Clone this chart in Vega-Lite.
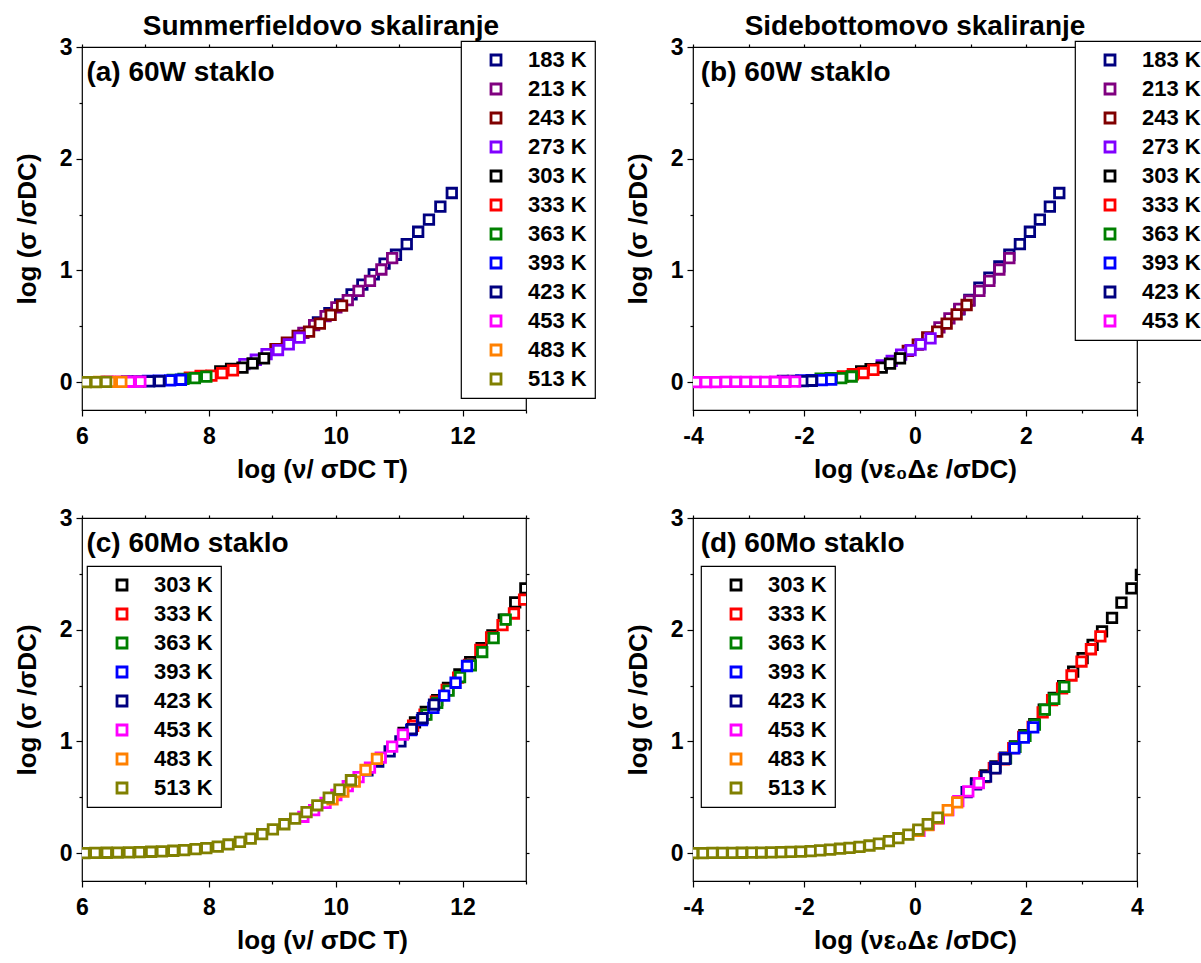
{
"$schema":"https://vega.github.io/schema/vega-lite/v6.json",
"background":"white",
"padding":{"left":13,"top":12,"right":0,"bottom":0},
"datasets":{
"a":[
{"T":"183 K","x":9.72,"y":0.535},{"T":"183 K","x":9.90,"y":0.617},{"T":"183 K","x":10.07,"y":0.696},{"T":"183 K","x":10.25,"y":0.785},{"T":"183 K","x":10.42,"y":0.873},{"T":"183 K","x":10.60,"y":0.965},{"T":"183 K","x":10.77,"y":1.06},{"T":"183 K","x":10.95,"y":1.14},{"T":"183 K","x":11.12,"y":1.235},{"T":"183 K","x":11.30,"y":1.346},{"T":"183 K","x":11.47,"y":1.454},{"T":"183 K","x":11.65,"y":1.571},{"T":"183 K","x":11.83,"y":1.693},
{"T":"213 K","x":9.49,"y":0.44},{"T":"213 K","x":9.66,"y":0.51},{"T":"213 K","x":9.84,"y":0.59},{"T":"213 K","x":10.01,"y":0.668},{"T":"213 K","x":10.19,"y":0.733},{"T":"213 K","x":10.36,"y":0.817},{"T":"213 K","x":10.54,"y":0.906},{"T":"213 K","x":10.72,"y":1.008},{"T":"213 K","x":10.89,"y":1.11},
{"T":"243 K","x":9.05,"y":0.295},{"T":"243 K","x":9.23,"y":0.353},{"T":"243 K","x":9.40,"y":0.413},{"T":"243 K","x":9.58,"y":0.452},{"T":"243 K","x":9.75,"y":0.523},{"T":"243 K","x":9.92,"y":0.601},{"T":"243 K","x":10.10,"y":0.685},
{"T":"273 K","x":8.56,"y":0.16},{"T":"273 K","x":8.74,"y":0.2},{"T":"273 K","x":8.91,"y":0.25},{"T":"273 K","x":9.09,"y":0.287},{"T":"273 K","x":9.26,"y":0.338},{"T":"273 K","x":9.43,"y":0.398},
{"T":"303 K","x":8.18,"y":0.095},{"T":"303 K","x":8.35,"y":0.118},{"T":"303 K","x":8.53,"y":0.13},{"T":"303 K","x":8.69,"y":0.167},{"T":"303 K","x":8.87,"y":0.212},
{"T":"333 K","x":7.70,"y":0.04},{"T":"333 K","x":7.87,"y":0.055},{"T":"333 K","x":8.04,"y":0.058},{"T":"333 K","x":8.21,"y":0.08},{"T":"333 K","x":8.38,"y":0.104},
{"T":"363 K","x":7.43,"y":0.02},{"T":"363 K","x":7.60,"y":0.028},{"T":"363 K","x":7.78,"y":0.035},{"T":"363 K","x":7.96,"y":0.048},
{"T":"393 K","x":7.04,"y":0.01},{"T":"393 K","x":7.21,"y":0.013},{"T":"393 K","x":7.39,"y":0.015},{"T":"393 K","x":7.56,"y":0.021},
{"T":"423 K","x":6.71,"y":0.006},{"T":"423 K","x":6.88,"y":0.007},{"T":"423 K","x":7.06,"y":0.006},{"T":"423 K","x":7.22,"y":0.009},
{"T":"453 K","x":6.40,"y":0.003},{"T":"453 K","x":6.57,"y":0.003},{"T":"453 K","x":6.75,"y":0.003},{"T":"453 K","x":6.92,"y":0.004},
{"T":"483 K","x":6.27,"y":0.002},{"T":"483 K","x":6.44,"y":0.002},{"T":"483 K","x":6.62,"y":0.002},
{"T":"513 K","x":5.90,"y":0},{"T":"513 K","x":6.06,"y":0},{"T":"513 K","x":6.22,"y":0},{"T":"513 K","x":6.38,"y":0.001}
],
"b":[
{"T":"183 K","x":0.80,"y":0.65},{"T":"183 K","x":0.98,"y":0.735},{"T":"183 K","x":1.16,"y":0.845},{"T":"183 K","x":1.34,"y":0.935},{"T":"183 K","x":1.52,"y":1.035},{"T":"183 K","x":1.70,"y":1.14},{"T":"183 K","x":1.89,"y":1.235},{"T":"183 K","x":2.07,"y":1.346},{"T":"183 K","x":2.25,"y":1.454},{"T":"183 K","x":2.43,"y":1.571},{"T":"183 K","x":2.60,"y":1.693},
{"T":"213 K","x":0.44,"y":0.49},{"T":"213 K","x":0.62,"y":0.57},{"T":"213 K","x":0.80,"y":0.655},{"T":"213 K","x":0.98,"y":0.73},{"T":"213 K","x":1.16,"y":0.817},{"T":"213 K","x":1.34,"y":0.906},{"T":"213 K","x":1.52,"y":1.008},{"T":"213 K","x":1.70,"y":1.11},
{"T":"243 K","x":-0.13,"y":0.28},{"T":"243 K","x":0.05,"y":0.335},{"T":"243 K","x":0.22,"y":0.40},{"T":"243 K","x":0.40,"y":0.452},{"T":"243 K","x":0.57,"y":0.523},{"T":"243 K","x":0.75,"y":0.607},{"T":"243 K","x":0.93,"y":0.69},
{"T":"273 K","x":-0.60,"y":0.15},{"T":"273 K","x":-0.42,"y":0.19},{"T":"273 K","x":-0.25,"y":0.245},{"T":"273 K","x":-0.08,"y":0.287},{"T":"273 K","x":0.10,"y":0.338},{"T":"273 K","x":0.28,"y":0.392},
{"T":"303 K","x":-0.97,"y":0.095},{"T":"303 K","x":-0.80,"y":0.115},{"T":"303 K","x":-0.60,"y":0.13},{"T":"303 K","x":-0.45,"y":0.165},{"T":"303 K","x":-0.27,"y":0.212},
{"T":"333 K","x":-1.30,"y":0.05},{"T":"333 K","x":-1.12,"y":0.07},{"T":"333 K","x":-0.93,"y":0.081},{"T":"333 K","x":-0.75,"y":0.11},
{"T":"363 K","x":-1.70,"y":0.03},{"T":"363 K","x":-1.52,"y":0.035},{"T":"363 K","x":-1.33,"y":0.035},{"T":"363 K","x":-1.14,"y":0.05},
{"T":"393 K","x":-2.05,"y":0.015},{"T":"393 K","x":-1.86,"y":0.018},{"T":"393 K","x":-1.68,"y":0.017},{"T":"393 K","x":-1.51,"y":0.022},
{"T":"423 K","x":-2.38,"y":0.01},{"T":"423 K","x":-2.20,"y":0.01},{"T":"423 K","x":-2.02,"y":0.008},{"T":"423 K","x":-1.86,"y":0.012},
{"T":"453 K","x":-4.13,"y":0},{"T":"453 K","x":-3.95,"y":0},{"T":"453 K","x":-3.77,"y":0},{"T":"453 K","x":-3.59,"y":0},{"T":"453 K","x":-3.41,"y":0.001},{"T":"453 K","x":-3.23,"y":0.001},{"T":"453 K","x":-3.05,"y":0.001},{"T":"453 K","x":-2.87,"y":0.002},{"T":"453 K","x":-2.70,"y":0.002},{"T":"453 K","x":-2.52,"y":0.003},{"T":"453 K","x":-2.34,"y":0.003},{"T":"453 K","x":-2.16,"y":0.004}
],
"c":[
{"T":"303 K","x":11.07,"y":1.075},{"T":"303 K","x":11.25,"y":1.17},{"T":"303 K","x":11.42,"y":1.265},{"T":"303 K","x":11.60,"y":1.37},{"T":"303 K","x":11.77,"y":1.48},{"T":"303 K","x":11.95,"y":1.60},{"T":"303 K","x":12.12,"y":1.71},{"T":"303 K","x":12.30,"y":1.835},{"T":"303 K","x":12.47,"y":1.95},{"T":"303 K","x":12.65,"y":2.09},{"T":"303 K","x":12.83,"y":2.245},{"T":"303 K","x":12.99,"y":2.37},{"T":"303 K","x":13.16,"y":2.49},
{"T":"333 K","x":11.22,"y":1.14},{"T":"333 K","x":11.40,"y":1.24},{"T":"333 K","x":11.58,"y":1.355},{"T":"333 K","x":11.75,"y":1.46},{"T":"333 K","x":11.93,"y":1.57},{"T":"333 K","x":12.10,"y":1.685},{"T":"333 K","x":12.28,"y":1.82},{"T":"333 K","x":12.45,"y":1.93},{"T":"333 K","x":12.63,"y":2.04},{"T":"333 K","x":12.81,"y":2.145},{"T":"333 K","x":12.97,"y":2.27},
{"T":"363 K","x":11.43,"y":1.24},{"T":"363 K","x":11.60,"y":1.345},{"T":"363 K","x":11.78,"y":1.455},{"T":"363 K","x":11.96,"y":1.575},{"T":"363 K","x":12.13,"y":1.68},{"T":"363 K","x":12.31,"y":1.80},{"T":"363 K","x":12.49,"y":1.925},{"T":"363 K","x":12.68,"y":2.09},
{"T":"393 K","x":11.19,"y":1.10},{"T":"393 K","x":11.36,"y":1.19},{"T":"393 K","x":11.54,"y":1.30},{"T":"393 K","x":11.71,"y":1.41},{"T":"393 K","x":11.89,"y":1.525},{"T":"393 K","x":12.07,"y":1.675},
{"T":"423 K","x":10.50,"y":0.74},{"T":"423 K","x":10.67,"y":0.82},{"T":"423 K","x":10.85,"y":0.91},{"T":"423 K","x":11.02,"y":1.00},{"T":"423 K","x":11.20,"y":1.11},{"T":"423 K","x":11.37,"y":1.207},{"T":"423 K","x":11.55,"y":1.33},
{"T":"453 K","x":9.49,"y":0.325},{"T":"453 K","x":9.66,"y":0.385},{"T":"453 K","x":9.84,"y":0.45},{"T":"453 K","x":10.01,"y":0.52},{"T":"453 K","x":10.19,"y":0.60},{"T":"453 K","x":10.36,"y":0.68},{"T":"453 K","x":10.54,"y":0.765},{"T":"453 K","x":10.71,"y":0.855},{"T":"453 K","x":10.89,"y":0.953},{"T":"453 K","x":11.06,"y":1.06},
{"T":"483 K","x":9.95,"y":0.48},{"T":"483 K","x":10.12,"y":0.55},{"T":"483 K","x":10.30,"y":0.64},{"T":"483 K","x":10.47,"y":0.744},{"T":"483 K","x":10.65,"y":0.843},
{"T":"513 K","x":6.04,"y":0},{"T":"513 K","x":6.21,"y":0.002},{"T":"513 K","x":6.39,"y":0.003},{"T":"513 K","x":6.56,"y":0.005},{"T":"513 K","x":6.74,"y":0.007},{"T":"513 K","x":6.91,"y":0.009},{"T":"513 K","x":7.09,"y":0.012},{"T":"513 K","x":7.26,"y":0.016},{"T":"513 K","x":7.44,"y":0.021},{"T":"513 K","x":7.61,"y":0.027},{"T":"513 K","x":7.79,"y":0.035},{"T":"513 K","x":7.96,"y":0.045},{"T":"513 K","x":8.14,"y":0.058},{"T":"513 K","x":8.31,"y":0.077},{"T":"513 K","x":8.49,"y":0.1},{"T":"513 K","x":8.66,"y":0.13},{"T":"513 K","x":8.84,"y":0.17},{"T":"513 K","x":9.01,"y":0.212},{"T":"513 K","x":9.19,"y":0.258},{"T":"513 K","x":9.36,"y":0.308},{"T":"513 K","x":9.54,"y":0.366},{"T":"513 K","x":9.71,"y":0.428},{"T":"513 K","x":9.89,"y":0.497},{"T":"513 K","x":10.06,"y":0.568},{"T":"513 K","x":10.24,"y":0.652}
],
"d":[
{"T":"303 K","x":1.10,"y":0.625},{"T":"303 K","x":1.27,"y":0.695},{"T":"303 K","x":1.45,"y":0.775},{"T":"303 K","x":1.62,"y":0.855},{"T":"303 K","x":1.80,"y":0.955},{"T":"303 K","x":1.97,"y":1.055},{"T":"303 K","x":2.15,"y":1.155},{"T":"303 K","x":2.32,"y":1.285},{"T":"303 K","x":2.50,"y":1.39},{"T":"303 K","x":2.67,"y":1.495},{"T":"303 K","x":2.85,"y":1.625},{"T":"303 K","x":3.02,"y":1.745},{"T":"303 K","x":3.20,"y":1.865},{"T":"303 K","x":3.37,"y":1.985},{"T":"303 K","x":3.55,"y":2.105},{"T":"303 K","x":3.72,"y":2.243},{"T":"303 K","x":3.90,"y":2.37},{"T":"303 K","x":4.07,"y":2.49},
{"T":"333 K","x":1.25,"y":0.68},{"T":"333 K","x":1.42,"y":0.76},{"T":"333 K","x":1.60,"y":0.84},{"T":"333 K","x":1.77,"y":0.94},{"T":"333 K","x":1.95,"y":1.04},{"T":"333 K","x":2.12,"y":1.13},{"T":"333 K","x":2.30,"y":1.26},{"T":"333 K","x":2.47,"y":1.37},{"T":"333 K","x":2.65,"y":1.475},{"T":"333 K","x":2.82,"y":1.59},{"T":"333 K","x":3.00,"y":1.715},{"T":"333 K","x":3.17,"y":1.825},{"T":"333 K","x":3.34,"y":1.94},
{"T":"363 K","x":1.64,"y":0.85},{"T":"363 K","x":1.81,"y":0.95},{"T":"363 K","x":1.99,"y":1.05},{"T":"363 K","x":2.16,"y":1.15},{"T":"363 K","x":2.34,"y":1.285},{"T":"363 K","x":2.51,"y":1.38},{"T":"363 K","x":2.69,"y":1.488},
{"T":"393 K","x":1.44,"y":0.765},{"T":"393 K","x":1.62,"y":0.85},{"T":"393 K","x":1.79,"y":0.938},{"T":"393 K","x":1.96,"y":1.034},{"T":"393 K","x":2.13,"y":1.126},
{"T":"423 K","x":0.93,"y":0.545},{"T":"423 K","x":1.10,"y":0.615},{"T":"423 K","x":1.28,"y":0.684},{"T":"423 K","x":1.45,"y":0.759},{"T":"423 K","x":1.63,"y":0.843},
{"T":"453 K","x":0.08,"y":0.20},{"T":"453 K","x":0.25,"y":0.255},{"T":"453 K","x":0.43,"y":0.31},{"T":"453 K","x":0.60,"y":0.385},{"T":"453 K","x":0.78,"y":0.465},{"T":"453 K","x":0.96,"y":0.553},{"T":"453 K","x":1.15,"y":0.627},
{"T":"483 K","x":0.06,"y":0.20},{"T":"483 K","x":0.24,"y":0.25},{"T":"483 K","x":0.41,"y":0.31},{"T":"483 K","x":0.59,"y":0.385},{"T":"483 K","x":0.76,"y":0.454},
{"T":"513 K","x":-4.00,"y":0},{"T":"513 K","x":-3.82,"y":0},{"T":"513 K","x":-3.65,"y":0.001},{"T":"513 K","x":-3.47,"y":0.001},{"T":"513 K","x":-3.29,"y":0.002},{"T":"513 K","x":-3.12,"y":0.003},{"T":"513 K","x":-2.94,"y":0.004},{"T":"513 K","x":-2.77,"y":0.005},{"T":"513 K","x":-2.59,"y":0.007},{"T":"513 K","x":-2.41,"y":0.009},{"T":"513 K","x":-2.24,"y":0.011},{"T":"513 K","x":-2.06,"y":0.013},{"T":"513 K","x":-1.88,"y":0.018},{"T":"513 K","x":-1.71,"y":0.024},{"T":"513 K","x":-1.53,"y":0.031},{"T":"513 K","x":-1.35,"y":0.039},{"T":"513 K","x":-1.18,"y":0.047},{"T":"513 K","x":-1.00,"y":0.056},{"T":"513 K","x":-0.82,"y":0.068},{"T":"513 K","x":-0.65,"y":0.085},{"T":"513 K","x":-0.47,"y":0.107},{"T":"513 K","x":-0.30,"y":0.133},{"T":"513 K","x":-0.12,"y":0.165},{"T":"513 K","x":0.06,"y":0.21},{"T":"513 K","x":0.23,"y":0.26},{"T":"513 K","x":0.41,"y":0.318}
]
},
"columns":2,
"spacing":{"row":108,"column":167},
"bounds":"flush",
"resolve":{"scale":{"color":"independent","x":"independent","y":"independent"},"legend":{"color":"independent"}},
"concat":[
{
"width":444,"height":363,
"title":{"text":"Summerfieldovo skaliranje","dx":17,"offset":-27,"baseline":"alphabetic","anchor":"middle","frame":"group"},
"resolve":{"axis":{"x":"independent","y":"independent"}},
"layer":[
{"data":{"name":"a"},
"mark":{"type":"point","shape":"square","filled":false,"fill":"white","size":90,"strokeWidth":2.8,"opacity":1,"clip":true},
"encoding":{
"x":{"field":"x","type":"quantitative","scale":{"domain":[6,13],"nice":false,"zero":false},"axis":{"title":"log (ν/ σDC T)","titleX":240,"values":[6,7,8,9,10,11,12,13],"labelExpr":"datum.value % 2 == 0 ? '' + datum.value : ''","tickSize":{"condition":{"test":"datum.value % 2 == 0","value":6},"value":3}}},
"y":{"field":"y","type":"quantitative","scale":{"domain":[-0.25,3],"nice":false,"zero":false},"axis":{"title":"log (σ /σDC)","values":[0,0.5,1,1.5,2,2.5,3],"labelExpr":"datum.value % 1 == 0 ? '' + datum.value : ''","tickSize":{"condition":{"test":"datum.value % 1 == 0","value":6},"value":3}}},
"color":{"field":"T","type":"nominal","scale":{"domain":["183 K","213 K","243 K","273 K","303 K","333 K","363 K","393 K","423 K","453 K","483 K","513 K"],"range":["#000080","#800080","#800000","#8000FF","#000000","#FF0000","#008000","#0000FF","#000080","#FF00FF","#FF8000","#808000"]},"legend":{"orient":"none","legendX":379,"legendY":-6,"title":null}}
}},
{"data":{"values":[{}]},"mark":{"type":"text","align":"left","baseline":"alphabetic","fontSize":28,"fontWeight":"bold","font":"Liberation Sans","color":"black"},
"encoding":{"x":{"datum":6.07,"type":"quantitative","axis":{"orient":"top","labels":false,"title":null,"values":[6,7,8,9,10,11,12,13],"tickSize":3}},"y":{"datum":2.7,"type":"quantitative","axis":{"orient":"right","labels":false,"title":null,"values":[0,0.5,1,1.5,2,2.5,3],"tickSize":3}},"text":{"value":"(a) 60W staklo"}}}
]
},
{
"width":444,"height":363,
"title":{"text":"Sidebottomovo skaliranje","offset":-27,"baseline":"alphabetic","anchor":"middle","frame":"group"},
"resolve":{"axis":{"x":"independent","y":"independent"}},
"layer":[
{"data":{"name":"b"},
"mark":{"type":"point","shape":"square","filled":false,"fill":"white","size":90,"strokeWidth":2.8,"opacity":1,"clip":true},
"encoding":{
"x":{"field":"x","type":"quantitative","scale":{"domain":[-4,4],"nice":false,"zero":false},"axis":{"title":"log (νε₀Δε /σDC)","values":[-4,-3,-2,-1,0,1,2,3,4],"labelExpr":"datum.value % 2 == 0 ? '' + datum.value : ''","tickSize":{"condition":{"test":"datum.value % 2 == 0","value":6},"value":3}}},
"y":{"field":"y","type":"quantitative","scale":{"domain":[-0.25,3],"nice":false,"zero":false},"axis":{"title":"log (σ /σDC)","values":[0,0.5,1,1.5,2,2.5,3],"labelExpr":"datum.value % 1 == 0 ? '' + datum.value : ''","tickSize":{"condition":{"test":"datum.value % 1 == 0","value":6},"value":3}}},
"color":{"field":"T","type":"nominal","scale":{"domain":["183 K","213 K","243 K","273 K","303 K","333 K","363 K","393 K","423 K","453 K"],"range":["#000080","#800080","#800000","#8000FF","#000000","#FF0000","#008000","#0000FF","#000080","#FF00FF"]},"legend":{"orient":"none","legendX":382,"legendY":-6,"title":null}}
}},
{"data":{"values":[{}]},"mark":{"type":"text","align":"left","baseline":"alphabetic","fontSize":28,"fontWeight":"bold","font":"Liberation Sans","color":"black"},
"encoding":{"x":{"datum":-3.86,"type":"quantitative","axis":{"orient":"top","labels":false,"title":null,"values":[-4,-3,-2,-1,0,1,2,3,4],"tickSize":3}},"y":{"datum":2.7,"type":"quantitative","axis":{"orient":"right","labels":false,"title":null,"values":[0,0.5,1,1.5,2,2.5,3],"tickSize":3}},"text":{"value":"(b) 60W staklo"}}}
]
},
{
"width":444,"height":363,
"resolve":{"axis":{"x":"independent","y":"independent"}},
"layer":[
{"data":{"name":"c"},
"mark":{"type":"point","shape":"square","filled":false,"fill":"white","size":90,"strokeWidth":2.8,"opacity":1,"clip":true},
"encoding":{
"x":{"field":"x","type":"quantitative","scale":{"domain":[6,13],"nice":false,"zero":false},"axis":{"title":"log (ν/ σDC T)","titleX":240,"values":[6,7,8,9,10,11,12,13],"labelExpr":"datum.value % 2 == 0 ? '' + datum.value : ''","tickSize":{"condition":{"test":"datum.value % 2 == 0","value":6},"value":3}}},
"y":{"field":"y","type":"quantitative","scale":{"domain":[-0.25,3],"nice":false,"zero":false},"axis":{"title":"log (σ /σDC)","values":[0,0.5,1,1.5,2,2.5,3],"labelExpr":"datum.value % 1 == 0 ? '' + datum.value : ''","tickSize":{"condition":{"test":"datum.value % 1 == 0","value":6},"value":3}}},
"color":{"field":"T","type":"nominal","scale":{"domain":["303 K","333 K","363 K","393 K","423 K","453 K","483 K","513 K"],"range":["#000000","#FF0000","#008000","#0000FF","#000080","#FF00FF","#FF8000","#808000"]},"legend":{"orient":"none","legendX":5,"legendY":48,"title":null}}
}},
{"data":{"values":[{}]},"mark":{"type":"text","align":"left","baseline":"alphabetic","fontSize":28,"fontWeight":"bold","font":"Liberation Sans","color":"black"},
"encoding":{"x":{"datum":6.07,"type":"quantitative","axis":{"orient":"top","labels":false,"title":null,"values":[6,7,8,9,10,11,12,13],"tickSize":3}},"y":{"datum":2.7,"type":"quantitative","axis":{"orient":"right","labels":false,"title":null,"values":[0,0.5,1,1.5,2,2.5,3],"tickSize":3}},"text":{"value":"(c) 60Mo staklo"}}}
]
},
{
"width":444,"height":363,
"resolve":{"axis":{"x":"independent","y":"independent"}},
"layer":[
{"data":{"name":"d"},
"mark":{"type":"point","shape":"square","filled":false,"fill":"white","size":90,"strokeWidth":2.8,"opacity":1,"clip":true},
"encoding":{
"x":{"field":"x","type":"quantitative","scale":{"domain":[-4,4],"nice":false,"zero":false},"axis":{"title":"log (νε₀Δε /σDC)","values":[-4,-3,-2,-1,0,1,2,3,4],"labelExpr":"datum.value % 2 == 0 ? '' + datum.value : ''","tickSize":{"condition":{"test":"datum.value % 2 == 0","value":6},"value":3}}},
"y":{"field":"y","type":"quantitative","scale":{"domain":[-0.25,3],"nice":false,"zero":false},"axis":{"title":"log (σ /σDC)","values":[0,0.5,1,1.5,2,2.5,3],"labelExpr":"datum.value % 1 == 0 ? '' + datum.value : ''","tickSize":{"condition":{"test":"datum.value % 1 == 0","value":6},"value":3}}},
"color":{"field":"T","type":"nominal","scale":{"domain":["303 K","333 K","363 K","393 K","423 K","453 K","483 K","513 K"],"range":["#000000","#FF0000","#008000","#0000FF","#000080","#FF00FF","#FF8000","#808000"]},"legend":{"orient":"none","legendX":8,"legendY":48,"title":null}}
}},
{"data":{"values":[{}]},"mark":{"type":"text","align":"left","baseline":"alphabetic","fontSize":28,"fontWeight":"bold","font":"Liberation Sans","color":"black"},
"encoding":{"x":{"datum":-3.86,"type":"quantitative","axis":{"orient":"top","labels":false,"title":null,"values":[-4,-3,-2,-1,0,1,2,3,4],"tickSize":3}},"y":{"datum":2.7,"type":"quantitative","axis":{"orient":"right","labels":false,"title":null,"values":[0,0.5,1,1.5,2,2.5,3],"tickSize":3}},"text":{"value":"(d) 60Mo staklo"}}}
]
}
],
"config":{
"font":"Liberation Sans",
"view":{"stroke":"black","strokeWidth":1.2},
"axis":{"grid":false,"domain":false,"tickColor":"black","tickWidth":1.2,"labelFont":"Liberation Sans","labelFontSize":23,"labelFontWeight":"bold","labelColor":"black","labelFlush":false,"labelOverlap":false,"titleFont":"Liberation Sans","titleFontSize":26,"titleFontWeight":"bold","titleColor":"black"},
"axisX":{"labelPadding":9,"titlePadding":8},
"axisY":{"labelPadding":4,"titlePadding":19},
"legend":{"padding":8,"rowPadding":7,"symbolOffset":16,"labelOffset":21,"strokeColor":"black","strokeWidth":1.2,"fillColor":"white","symbolType":"square","symbolSize":100,"symbolStrokeWidth":2.8,"labelFont":"Liberation Sans","labelFontSize":22,"labelFontWeight":"bold","labelColor":"black"},
"title":{"font":"Liberation Sans","fontSize":28,"fontWeight":"bold","color":"black"}
}
}
